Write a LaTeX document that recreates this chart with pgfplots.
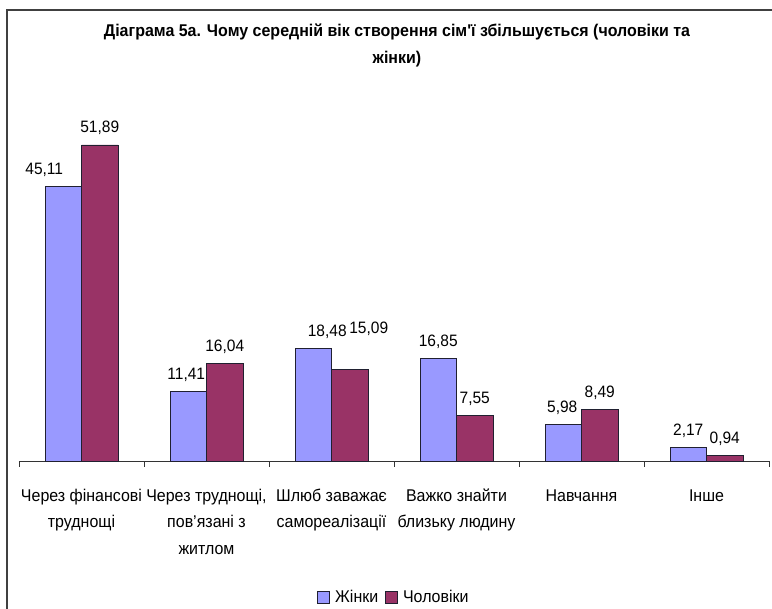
\documentclass[border=0pt]{standalone}
\usepackage{fontspec}
\setmainfont{Liberation Sans}
\newfontfamily\narrowfont{Liberation Sans}[FakeStretch=0.94]
\usepackage{pgfplots}
\pgfplotsset{compat=1.18}
\usepackage{pgfplotstable}
\definecolor{women}{HTML}{9999FF}
\definecolor{men}{HTML}{993366}
\definecolor{edge}{HTML}{202030}

\pgfplotstableread{
x y dx dy
0 45.11 -19 0
1 11.41 -2 0
2 18.48 14 0
3 16.85 0 0
4 5.98 -1 0
5 2.17 0 0
}\women
\pgfplotstableread{
x y dx dy
0 51.89 0 0
1 16.04 0 0
2 15.09 19 24
3 7.55 0 0
4 8.49 0 0
5 0.94 0 0
}\men

\pgfplotsset{
  lbl/.style={
    visualization depends on={\thisrow{dx} \as \labeldx},
    visualization depends on={\thisrow{dy} \as \labeldy},
    nodes near coords,
    every node near coord/.append style={font=\narrowfont\fontsize{16.5}{18}\selectfont, anchor=base, xshift={\labeldx*1pt}, yshift={(12+\labeldy)*1pt}, black},
  },
  sqlegend/.style={legend image code/.code={\draw[##1, line width=0.8pt] (0pt,-6pt) rectangle (12pt,6pt);}},
}
\newcommand{\fs}{\rule{0pt}{13pt}}

\begin{document}
\begin{tikzpicture}[x=1pt,y=1pt]
\path[use as bounding box] (0,0) rectangle (772,609);
\draw[line width=1.5pt, black!75] (7,0) -- (7,599) -- (772,599);
\node[font=\narrowfont\bfseries\fontsize{17}{20}\selectfont, anchor=base] at (397,572) {Діаграма 5а. Чому середній вік створення сім'ї збільшується (чоловіки та};
\node[font=\narrowfont\bfseries\fontsize{17}{20}\selectfont, anchor=base] at (397,545) {жінки)};
\begin{axis}[
  at={(19pt,148pt)}, anchor=south west,
  scale only axis, width=750pt, height=365.4pt,
  xmin=-0.5, xmax=5.5, ymin=0, ymax=60,
  clip=false,
  ybar=0pt, bar width=36.5pt,
  axis x line*=bottom, hide y axis,
  x axis line style={black!80, line width=0.8pt, -},
  xtick={0,1,2,3,4,5},
  xticklabels={{\fs Через фінансові\\труднощі},{\fs Через труднощі,\\пов’язані з\\житлом},{\fs Шлюб заважає\\самореалізації},{\fs Важко знайти\\близьку людину},{\fs Навчання},{\fs Інше}},
  major x tick style={draw=none},
  minor xtick={-0.5,0.5,1.5,2.5,3.5,4.5,5.5},
  minor tick length=6pt, tick align=outside,
  minor x tick style={black!80, line width=0.8pt},
  xticklabel style={font=\narrowfont\fontsize{17}{26.5}\selectfont, align=center, anchor=north, yshift=-23pt, inner sep=0pt},
  /pgf/number format/.cd, use comma, fixed, fixed zerofill, precision=2, assume math mode=true,
  /pgfplots/.cd,
  legend columns=2,
  legend style={at={(0.5,-0.372)}, anchor=center, draw=none, font=\narrowfont\fontsize{17}{18}\selectfont,
    /tikz/every odd column/.append style={column sep=3pt},
    /tikz/every even column/.append style={column sep=5pt}},
]
\addlegendimage{fill=women, draw=edge, line width=0.8pt, sqlegend}
\addlegendentry{Жінки}
\addlegendimage{fill=men, draw=edge, line width=0.8pt, sqlegend}
\addlegendentry{Чоловіки}
\addplot[fill=women, draw=edge, line width=0.8pt, lbl] table[x=x,y=y] {\women};
\addplot[fill=men, draw=edge, line width=0.8pt, lbl] table[x=x,y=y] {\men};
\end{axis}
\end{tikzpicture}
\end{document}
